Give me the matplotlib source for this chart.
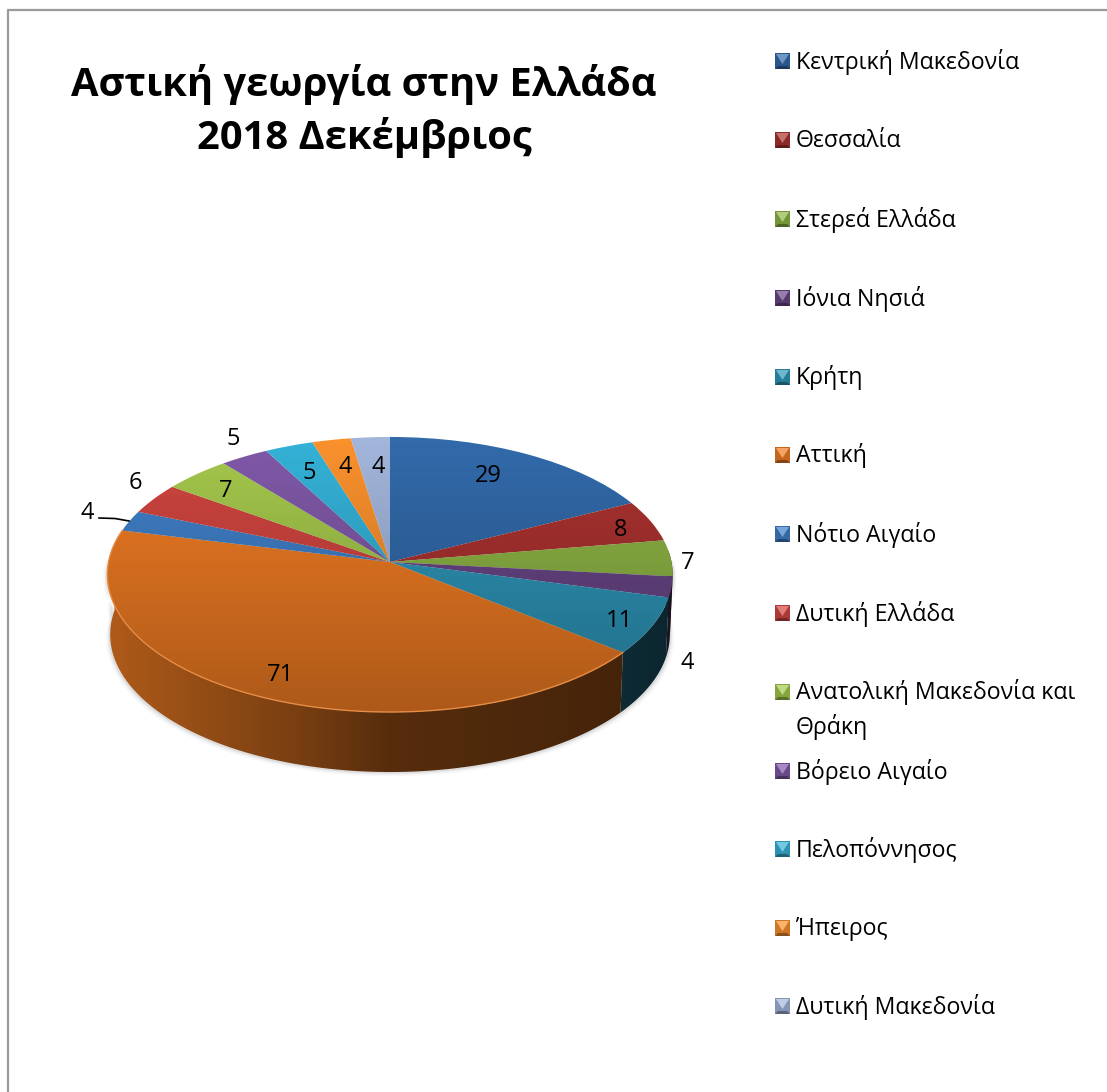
import numpy as np
import matplotlib
matplotlib.use("Agg")
import matplotlib.pyplot as plt
from matplotlib.patches import Polygon
from matplotlib.path import Path
from matplotlib.transforms import Transform

regions = ["Κεντρική Μακεδονία", "Θεσσαλία", "Στερεά Ελλάδα", "Ιόνια Νησιά", "Κρήτη", "Αττική",
           "Νότιο Αιγαίο", "Δυτική Ελλάδα", "Ανατολική Μακεδονία και\nΘράκη", "Βόρειο Αιγαίο",
           "Πελοπόννησος", "Ήπειρος", "Δυτική Μακεδονία"]
values = [29, 8, 7, 4, 11, 71, 4, 6, 7, 5, 5, 4, 4]
colors = ["#326aaa", "#aa3230", "#8eb444", "#694687", "#2e96b9", "#f07c23",
          "#4080c8", "#d04540", "#a5c84c", "#8059a8", "#34b2d8", "#fa912d", "#a2b6dc"]
title = "Αστική γεωργία στην Ελλάδα\n2018 Δεκέμβριος"

# where the data labels sit, in picture pixels
label_xy = [(488, 476), (621, 530), (688, 563), (687, 663), (619, 621), (280, 675), (87, 513),
            (135, 483), (233, 439), (226, 491), (309, 473), (345, 467), (378, 467)]
label_xy[8], label_xy[9] = (226, 491), (233, 439)
legend_y = [61, 140, 219, 298, 377, 455, 534, 613, 692, 771, 849, 928, 1006]

# pie geometry
CX, CY = 390, 562
RX, RY = 281.5, 136.4
K = 0.0909      # perspective strength
WALL = 60

plt.rcParams["font.family"] = ["Open Sans", "DejaVu Sans"]


class DiskTransform(Transform):
    # unit pie disk -> tilted disk in picture pixels
    input_dims = 2
    output_dims = 2

    def transform_non_affine(self, xy):
        xy = np.asarray(xy)
        w = 1 + K * xy[:, 1]
        return np.column_stack([CX + RX * xy[:, 0] / w, CY - RY * xy[:, 1] / w])


disk = DiskTransform()


def rim(t1, t2):
    # points on the disk edge, t measured clockwise from the top, in degrees
    t = np.radians(np.linspace(t1, t2, 80))
    return disk.transform_non_affine(np.column_stack([np.sin(t), np.cos(t)]))


def wall_poly(t1, t2):
    top = rim(t1, t2)
    low = np.column_stack([CX + (top[:, 0] - CX) * 0.99, top[:, 1] + WALL])
    return np.vstack([top, low[::-1]])


fig = plt.figure(figsize=(11.07, 10.92), dpi=100)
ax = fig.add_axes([0, 0, 1, 1])

# soft shadow round the wall
for grow, a in [(4, 0.05), (2.5, 0.08), (1.5, 0.12)]:
    p = wall_poly(88, 272)
    p = p + np.column_stack([np.sign(p[:, 0] - CX) * grow, np.full(len(p), grow)])
    ax.add_patch(Polygon(p, fc="#707070", ec="none", alpha=a, zorder=1))

# -------- top of the pie --------
wedges, _ = ax.pie(values, colors=colors, startangle=90, counterclock=False, radius=1)
for w in wedges:
    w.set_transform(disk + ax.transData)
    w.set_zorder(4)
    w.set_edgecolor("none")

# -------- side wall --------
edges = np.cumsum([0] + values) / sum(values) * 360
xs = np.linspace(100, 680, 300)
shade = np.interp(xs, [108, 300, 390, 620, 672], [0.73, 0.50, 0.36, 0.29, 0.25])
for i, c in enumerate(colors):
    t1, t2 = max(edges[i], 85), min(edges[i + 1], 275)
    if t2 <= t1:
        continue
    rgb = np.array(matplotlib.colors.to_rgb(c))
    img = (shade[:, None] * rgb)[None, :, :]
    im = ax.imshow(img, extent=(100, 680, 790, 500), aspect="auto", zorder=2)
    poly = Polygon(wall_poly(t1, t2), transform=ax.transData)
    im.set_clip_path(poly)

# darkening towards the front of the top face
grad = np.zeros((200, 1, 4))
grad[:, 0, 3] = np.linspace(0, 0.28, 200)
im = ax.imshow(grad, extent=(100, 680, 712, 437), aspect="auto", zorder=5)
im.set_clip_path(Path.unit_circle(), disk + ax.transData)

# light rim on the orange slice
r = rim(edges[5], edges[6])
ax.plot(r[:, 0], r[:, 1], color="#e58c45", lw=1.0, zorder=6)

# -------- data labels --------
for v, (x, y) in zip(values, label_xy):
    ax.text(x, y, str(v), fontsize=17, ha="center", va="center", color="black", zorder=8)
ax.plot([99, 115, 129], [518, 518.5, 521], color="black", lw=1.2, zorder=7)

# -------- legend --------
for name, c, y in zip(regions, colors, legend_y):
    x0, x1, y0, y1 = 775, 790, y - 8, y + 8
    mx, my = (x0 + x1) / 2, (y0 + y1) / 2
    rgb = np.array(matplotlib.colors.to_rgb(c))
    light = rgb + (1 - rgb) * 0.30
    ax.add_patch(Polygon([(x0, y0), (x1, y0), (x1, y1), (x0, y1)], fc=rgb * 0.82, ec="none", zorder=6))
    ax.add_patch(Polygon([(x0 + 1, y0 + 1), (x1 - 1, y0 + 1), (mx, my + 3)], fc=light, ec="none", zorder=7))
    ax.add_patch(Polygon([(x0, y1), (x1, y1), (x1 - 3, y1 - 3), (x0 + 3, y1 - 3)], fc=rgb * 0.55, ec="none", zorder=7))
    if "\n" in name:
        ax.text(796, y - 13, name, fontsize=16.7, va="top", ha="left", linespacing=1.45)
    else:
        ax.text(796, y + 1, name, fontsize=16.7, va="center", ha="left")

# -------- title and frame --------
ax.text(364, 111, title, fontsize=28.7, fontweight="bold", ha="center", va="center", linespacing=1.4)
ax.plot([8, 8, 1107], [1092, 10, 10], color="#9a9a9a", lw=1.6, zorder=9)

ax.set_aspect("auto")
ax.set_xlim(0, 1107)
ax.set_ylim(1092, 0)
ax.axis("off")

fig.savefig("out.png", dpi=100)
